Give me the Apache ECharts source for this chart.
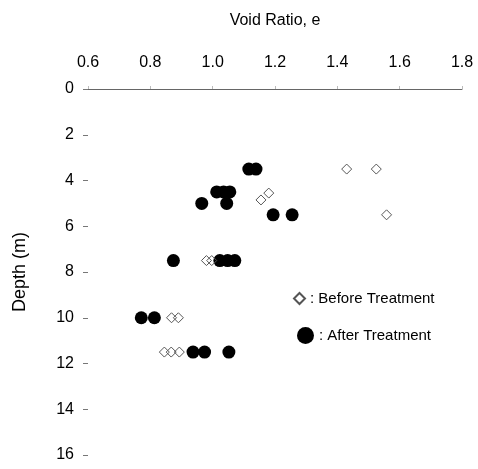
<!DOCTYPE html>
<html>
<head>
<meta charset="utf-8">
<script src="https://cdn.jsdelivr.net/npm/echarts@6/dist/echarts.min.js"></script>
<style>
html,body{margin:0;padding:0;background:#fff;}
#chart{width:478px;height:469px;}
</style>
</head>
<body>
<div id="chart"></div>
<script>
// Before Treatment: [void ratio, depth]
var beforeE     = [1.43, 1.525, 1.155, 1.18, 1.558, 0.98, 0.997, 0.868, 0.89, 0.845, 0.867, 0.893];
var beforeDepth = [3.5,  3.5,   4.85,  4.55, 5.5,   7.5,  7.5,   10,    10,   11.5,  11.5,  11.5];
// After Treatment
var afterE     = [1.116, 1.139, 1.013, 1.035, 1.055, 0.965, 1.045, 1.194, 1.255, 0.874, 1.023, 1.048, 1.071, 0.771, 0.813, 0.937, 0.974, 1.052];
var afterDepth = [3.5,   3.5,   4.5,   4.5,   4.5,   5.0,   5.0,   5.5,   5.5,   7.5,   7.5,   7.5,   7.5,   10,    10,    11.5,  11.5,  11.5];
var xTicks = [0.6, 0.8, 1.0, 1.2, 1.4, 1.6, 1.8];
var yTicks = [0, 2, 4, 6, 8, 10, 12, 14, 16];

function pairs(a, b) { return a.map(function (v, i) { return [v, b[i]]; }); }

var chart = echarts.init(document.getElementById('chart'));
var font = 'Liberation Sans, Arial, sans-serif';
chart.setOption({
  animation: false,
  textStyle: { fontFamily: font },
  grid: { left: 88, right: 16, top: 89, bottom: 14 },
  xAxis: {
    type: 'value', position: 'top',
    min: xTicks[0], max: xTicks[xTicks.length - 1], interval: 0.2,
    name: 'Void Ratio, e', nameLocation: 'middle', nameGap: 60,
    nameTextStyle: { fontSize: 16, color: '#000', fontFamily: font },
    axisLine: { show: true, lineStyle: { color: '#666', width: 1 } },
    axisTick: { show: true, length: 3, lineStyle: { color: '#bbb' } },
    splitLine: { show: false },
    axisLabel: { fontSize: 16, color: '#000', margin: 18, fontFamily: font,
      formatter: function (v) { return v.toFixed(1); } }
  },
  yAxis: {
    type: 'value', inverse: true,
    min: yTicks[0], max: yTicks[yTicks.length - 1], interval: 2,
    name: 'Depth (m)', nameLocation: 'middle', nameGap: 59, nameRotate: 90,
    nameTextStyle: { fontSize: 18, color: '#000', fontFamily: font },
    axisLine: { show: false },
    axisTick: { show: true, length: 5, lineStyle: { color: '#777' } },
    splitLine: { show: false },
    axisLabel: { fontSize: 16, color: '#000', margin: 14, fontFamily: font }
  },
  legend: [
    { data: ['Before Treatment'], orient: 'vertical', left: 288, top: 286,
      itemWidth: 11, itemHeight: 11, itemGap: 4,
      formatter: ': {name}', textStyle: { fontSize: 15, color: '#000', fontFamily: font } },
    { data: ['After Treatment'], orient: 'vertical', left: 292, top: 322,
      itemWidth: 17, itemHeight: 17, itemGap: 4,
      formatter: ': {name}', textStyle: { fontSize: 15, color: '#000', fontFamily: font } }
  ],
  series: [
    { name: 'Before Treatment', type: 'scatter', symbol: 'diamond', symbolSize: 10,
      itemStyle: { color: 'rgba(255,255,255,0)', borderColor: '#555', borderWidth: 1, opacity: 1 },
      data: pairs(beforeE, beforeDepth), z: 3 },
    { name: 'After Treatment', type: 'scatter', symbol: 'circle', symbolSize: 13,
      itemStyle: { color: '#000', opacity: 1 },
      data: pairs(afterE, afterDepth), z: 2 }
  ]
});
</script>
</body>
</html>
